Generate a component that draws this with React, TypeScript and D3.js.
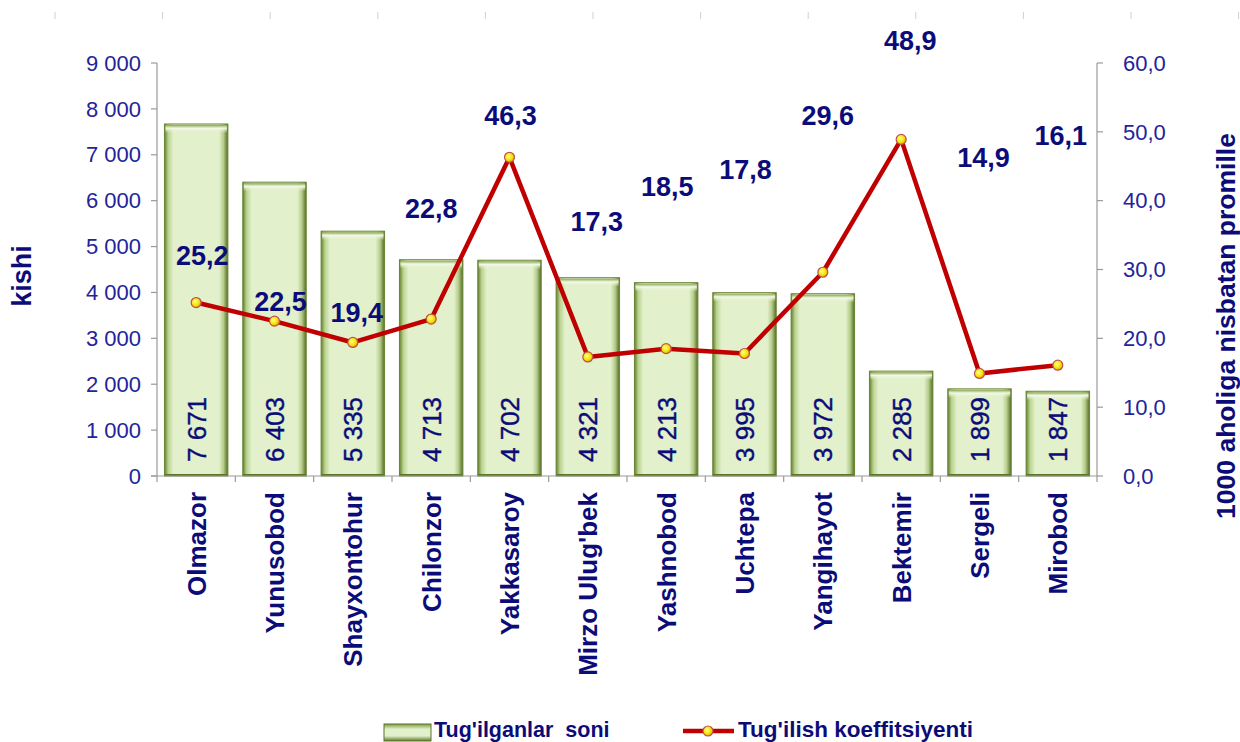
import React from "react";
import * as d3 from "d3";

const categories = ["Olmazor", "Yunusobod", "Shayxontohur", "Chilonzor", "Yakkasaroy", "Mirzo Ulug'bek", "Yashnobod", "Uchtepa", "Yangihayot", "Bektemir", "Sergeli", "Mirobod"];
const births = [7671, 6403, 5335, 4713, 4702, 4321, 4213, 3995, 3972, 2285, 1899, 1847];
const rate = [25.2, 22.5, 19.4, 22.8, 46.3, 17.3, 18.5, 17.8, 29.6, 48.9, 14.9, 16.1];
// label placement (in per-mille units of right axis), as placed in the original
const rateLabelAt = [32.0, 25.3, 23.8, 38.9, 52.3, 36.9, 42.0, 44.5, 52.3, 63.3, 46.3, 49.4];
const rateLabelDx = [6, 6, 4, 0, 1, 9, 1, 1, 5, 9, 4, 3];
const leftTicks = [0, 1000, 2000, 3000, 4000, 5000, 6000, 7000, 8000, 9000];
const rightTicks = [0, 10, 20, 30, 40, 50, 60];

const W = 1240, H = 742;
const left = 157, right = 1097, top = 63, bottom = 476;
const navy = "#23239a";
const darkNavy = "#0c0c78";
const font = "'Liberation Sans', Arial, sans-serif";

const fmtThousands = (v: number) => {
  const s = String(v);
  return s.length > 3 ? s.slice(0, s.length - 3) + " " + s.slice(-3) : s;
};
const fmtComma = (v: number) => v.toFixed(1).replace(".", ",");

export default function App() {
  const x = d3.scaleBand<string>().domain(categories).range([left, right]).paddingInner(0.19).paddingOuter(0.095);
  const xb = d3.scaleBand<string>().domain(categories).range([left, right]);
  const yL = d3.scaleLinear().domain([0, 9000]).range([bottom, top]);
  const yR = d3.scaleLinear().domain([0, 60]).range([bottom, top]);
  const line = d3.line<number>().x((_, i) => (xb(categories[i]) as number) + xb.bandwidth() / 2).y((d) => yR(d));
  const topTicks = d3.range(12).map((i) => 55 + i * 107.6);

  return (
    <div style={{ position: "absolute", left: 0, top: 0 }}>
      <svg width={W} height={H} style={{ display: "block", background: "#fff" }} fontFamily={font}>
        <defs>
          <linearGradient id="barG" x1="0" x2="1" y1="0" y2="0">
            <stop offset="0" stopColor="#627f2c" />
            <stop offset="0.06" stopColor="#b9d28e" />
            <stop offset="0.14" stopColor="#e2f0cb" />
            <stop offset="0.86" stopColor="#e2f0cb" />
            <stop offset="0.93" stopColor="#b5cc8a" />
            <stop offset="1" stopColor="#526d22" />
          </linearGradient>
          <linearGradient id="barTop" x1="0" x2="0" y1="0" y2="1">
            <stop offset="0" stopColor="#8aa650" />
            <stop offset="0.4" stopColor="#f3f9e8" />
            <stop offset="1" stopColor="#e2f0cb" stopOpacity="0" />
          </linearGradient>
          <linearGradient id="legG" x1="0" x2="0" y1="0" y2="1">
            <stop offset="0" stopColor="#7a9a40" />
            <stop offset="0.3" stopColor="#e2f0cb" />
            <stop offset="0.7" stopColor="#e2f0cb" />
            <stop offset="1" stopColor="#5b7628" />
          </linearGradient>
          <radialGradient id="dotG" cx="0.4" cy="0.4" r="0.6">
            <stop offset="0" stopColor="#ffff80" />
            <stop offset="0.7" stopColor="#f2e000" />
            <stop offset="1" stopColor="#d8a000" />
          </radialGradient>
        </defs>

        {topTicks.map((tx, i) => (
          <line key={"tt" + i} x1={tx} x2={tx} y1={12} y2={19} stroke="#cfcfcf" strokeWidth={1} />
        ))}

        {/* bars */}
        {categories.map((c, i) => {
          const bx = x(c) as number;
          const by = yL(births[i]);
          const bw = x.bandwidth();
          const bh = bottom - by;
          return (
            <g key={c}>
              <rect x={bx} y={by} width={bw} height={bh} fill="url(#barG)" stroke="#6a8535" strokeWidth={1} />
              <rect x={bx + 1} y={by + 1} width={bw - 2} height={8} fill="url(#barTop)" />
              <line x1={bx} x2={bx + bw} y1={bottom - 1} y2={bottom - 1} stroke="#5b7628" strokeWidth={2} />
              <text
                transform={`translate(${bx + bw / 2},${462}) rotate(-90)`}
                textAnchor="start"
                dy="0.36em"
                fontSize={26}
                fill={darkNavy}
                stroke={darkNavy}
                strokeWidth={0.4}
              >
                {fmtThousands(births[i])}
              </text>
            </g>
          );
        })}

        {/* axes */}
        <line x1={left} x2={left} y1={top} y2={bottom} stroke="#9a9a9a" strokeWidth={1.2} />
        {leftTicks.map((t) => (
          <g key={"l" + t}>
            <line x1={left - 6} x2={left} y1={yL(t)} y2={yL(t)} stroke="#9a9a9a" strokeWidth={1.2} />
            <text x={left - 16} y={yL(t)} dy="0.35em" textAnchor="end" fontSize={22} fill={navy}>
              {fmtThousands(t)}
            </text>
          </g>
        ))}
        <line x1={right} x2={right} y1={top} y2={bottom} stroke="#9a9a9a" strokeWidth={1.2} />
        {rightTicks.map((t) => (
          <g key={"r" + t}>
            <line x1={right} x2={right + 6} y1={yR(t)} y2={yR(t)} stroke="#9a9a9a" strokeWidth={1.2} />
            <text x={right + 26} y={yR(t)} dy="0.35em" textAnchor="start" fontSize={22} fill={navy}>
              {fmtComma(t)}
            </text>
          </g>
        ))}
        <line x1={left - 6} x2={right} y1={bottom} y2={bottom} stroke="#9a9a9a" strokeWidth={1.2} />
        {categories.map((c, i) => (
          <line key={"bt" + i} x1={xb(c) as number} x2={xb(c) as number} y1={bottom} y2={bottom + 6} stroke="#9a9a9a" strokeWidth={1.2} />
        ))}
        <line x1={right} x2={right} y1={bottom} y2={bottom + 6} stroke="#9a9a9a" strokeWidth={1.2} />

        {/* category labels */}
        {categories.map((c) => (
          <text
            key={"cl" + c}
            transform={`translate(${(xb(c) as number) + xb.bandwidth() / 2},${492}) rotate(-90)`}
            textAnchor="end"
            dy="0.36em"
            fontSize={26}
            fontWeight="bold"
            fill={darkNavy}
          >
            {c}
          </text>
        ))}

        {/* line */}
        <path d={line(rate) as string} fill="none" stroke="#c00000" strokeWidth={4.5} strokeLinejoin="round" />
        {rate.map((r, i) => (
          <circle
            key={"p" + i}
            cx={(xb(categories[i]) as number) + xb.bandwidth() / 2}
            cy={yR(r)}
            r={5}
            fill="url(#dotG)"
            stroke="#c0504d"
            strokeWidth={1.2}
          />
        ))}
        {rate.map((r, i) => (
          <text
            key={"rl" + i}
            x={(xb(categories[i]) as number) + xb.bandwidth() / 2 + rateLabelDx[i]}
            y={yR(rateLabelAt[i])}
            dy="0.35em"
            textAnchor="middle"
            fontSize={27}
            fontWeight="bold"
            fill={darkNavy}
          >
            {fmtComma(r)}
          </text>
        ))}

        {/* axis titles */}
        <text transform={`translate(22,276) rotate(-90)`} textAnchor="middle" dy="0.35em" fontSize={27} fontWeight="bold" fill={darkNavy}>
          kishi
        </text>
        <text transform={`translate(1226,326) rotate(-90)`} textAnchor="middle" dy="0.35em" fontSize={26.5} fontWeight="bold" fill={darkNavy}>
          1000 aholiga nisbatan promille
        </text>

        {/* legend */}
        <rect x={384} y={724} width={47} height={17} fill="url(#legG)" stroke="#5b7628" strokeWidth={1} />
        <text x={434} y={737} fontSize={21.5} fontWeight="bold" fill={darkNavy} style={{ whiteSpace: "pre" }}>
          Tug'ilganlar  soni
        </text>
        <line x1={683} x2={734} y1={731} y2={731} stroke="#c00000" strokeWidth={4.5} />
        <circle cx={708} cy={731} r={5} fill="url(#dotG)" stroke="#c0504d" strokeWidth={1.2} />
        <text x={738} y={737} fontSize={22.5} fontWeight="bold" fill={darkNavy}>
          Tug'ilish koeffitsiyenti
        </text>
      </svg>
    </div>
  );
}
